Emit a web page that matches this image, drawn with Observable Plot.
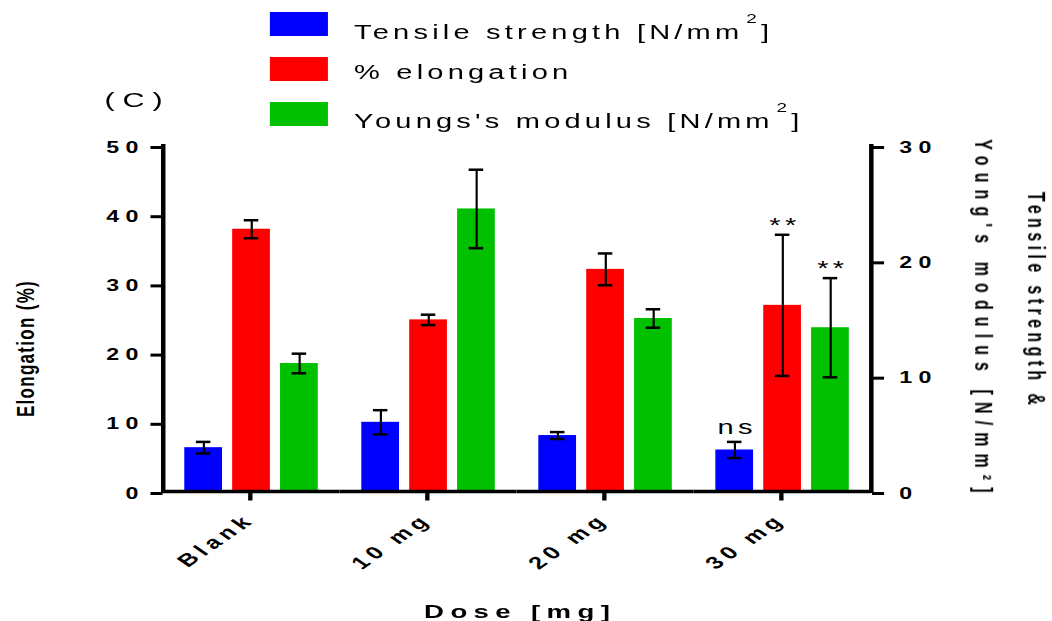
<!DOCTYPE html>
<html>
<head>
<meta charset="utf-8">
<script src="https://cdn.jsdelivr.net/npm/d3@7"></script>
<script src="https://cdn.jsdelivr.net/npm/@observablehq/plot@0.6"></script>
<style>
  html, body { margin: 0; padding: 0; background: #fff; overflow: hidden; }
  /* The figure is laid out 725px wide, then widened across the 1052px page. */
  #figure {
    position: relative; width: 725px; height: 621px;
    transform: scaleX(1.451); transform-origin: 0 0;
    font-family: "Liberation Sans", Arial, sans-serif; color: #000;
  }
  #legend { position: relative; height: 135px; }
  #legend .swatch { position: absolute; left: 186px; width: 39.5px; height: 23.4px; }
  #legend .entry {
    position: absolute; left: 244px; font-size: 20px; line-height: 20px;
    letter-spacing: 2.9px; white-space: nowrap;
  }
  #legend .sup { position: relative; top: -16.5px; font-size: 13px; margin-left: 2px; }
  #legend .panel {
    position: absolute; left: 72px; top: 89px; font-size: 21px; line-height: 21px;
    letter-spacing: 5.5px;
  }
  #chart svg { display: block; }
  g[aria-label="y-axis tick label"] { font-size: 16px; font-weight: bold; letter-spacing: 4.3px; }
  g[aria-label="fx-axis tick label"] { font-size: 17.5px; font-weight: bold; letter-spacing: 3.8px; }
  g[aria-description="significance"] { letter-spacing: 3px; }
  g[aria-description="y title"] { letter-spacing: 1.3px; }
  g[aria-description="y2 title 1"] { letter-spacing: 4.4px; }
  g[aria-description="y2 title 2"] { letter-spacing: 7.1px; }
  g[aria-description="x title"] { letter-spacing: 4.4px; }
</style>
</head>
<body>
<div id="figure">
  <div id="legend"></div>
  <div id="chart"></div>
</div>
<script>
// Doses and the three measured properties
const doses = ["Blank", "10 mg", "20 mg", "30 mg"];
const seriesNames = ["Tensile strength", "% elongation", "Young's modulus"];
const seriesLabels = ["Tensile strength [N/mm²]", "% elongation", "Youngs's modulus [N/mm²]"];
const seriesColors = ["#0000ff", "#ff0000", "#00c000"];
const seriesAxis = ["right", "left", "right"];

// Means and standard deviations per dose
const tensileMean = [3.8, 6.0, 4.85, 3.6];
const tensileSD = [0.5, 1.05, 0.3, 0.7];
const elongationMean = [37.9, 24.8, 32.1, 26.9];
const elongationSD = [1.3, 0.75, 2.3, 10.2];
const modulusMean = [11.1, 24.5, 15.0, 14.2];
const modulusSD = [0.85, 3.4, 0.8, 4.3];

// Significance labels versus blank
const tensileSig = ["", "", "", "ns"];
const elongationSig = ["", "", "", "**"];
const modulusSig = ["", "", "", "**"];

// Axis ticks
const leftTicks = [0, 10, 20, 30, 40, 50];
const rightTicks = [0, 10, 20, 30];

// Right-axis values are drawn on the left (elongation) scale
const rightToLeft = leftTicks[leftTicks.length - 1] / rightTicks[rightTicks.length - 1];

const table = [
  [tensileMean, tensileSD, tensileSig],
  [elongationMean, elongationSD, elongationSig],
  [modulusMean, modulusSD, modulusSig]
];

const rows = doses.flatMap((dose, i) =>
  seriesNames.map((series, s) => {
    const [mean, sd, sig] = table[s];
    const f = seriesAxis[s] === "right" ? rightToLeft : 1;
    return {
      dose, series,
      mean: mean[i] * f,
      lo: (mean[i] - sd[i]) * f,
      hi: (mean[i] + sd[i]) * f,
      sig: sig[i]
    };
  })
);

// Legend
const legend = document.getElementById("legend");
const swatchTops = [12.3, 57.3, 102.3];
const entryTops = [22.4, 62.4, 111.4];
seriesLabels.forEach((label, i) => {
  const sw = document.createElement("div");
  sw.className = "swatch";
  sw.style.top = swatchTops[i] + "px";
  sw.style.background = seriesColors[i];
  legend.appendChild(sw);
  const entry = document.createElement("div");
  entry.className = "entry";
  entry.style.top = entryTops[i] + "px";
  const parts = label.split("²");
  entry.appendChild(document.createTextNode(parts[0]));
  if (parts.length > 1) {
    const sup = document.createElement("span");
    sup.className = "sup";
    sup.textContent = "2";
    entry.appendChild(sup);
    entry.appendChild(document.createTextNode(parts[1]));
  }
  legend.appendChild(entry);
});
const panel = document.createElement("div");
panel.className = "panel";
panel.textContent = "(C)";
legend.appendChild(panel);

const first = () => doses[0];
const last = () => doses[doses.length - 1];
const middle = () => doses[doses.length / 2];

const chart = Plot.plot({
  width: 725,
  height: 486,
  marginTop: 10,
  marginBottom: 130,
  marginLeft: 112,
  marginRight: 125,
  style: {fontFamily: "'Liberation Sans', Arial, sans-serif", color: "#000", background: "#fff", overflow: "visible"},
  fx: {domain: doses, padding: 0},
  x: {domain: seriesNames, paddingInner: 0.2, paddingOuter: 0.43, axis: null},
  y: {domain: [0, 50]},
  color: {domain: seriesNames, range: seriesColors},
  marks: [
    Plot.barY(rows, {fx: "dose", x: "series", y: "mean", fill: "series"}),
    Plot.ruleX(rows, {fx: "dose", x: "series", y1: "lo", y2: "hi", stroke: "#000", strokeWidth: 1.5}),
    Plot.tickY(rows, {fx: "dose", x: "series", y: "lo", stroke: "#000", strokeWidth: 2.5, insetLeft: 8, insetRight: 8}),
    Plot.tickY(rows, {fx: "dose", x: "series", y: "hi", stroke: "#000", strokeWidth: 2.5, insetLeft: 8, insetRight: 8}),
    Plot.text(rows.filter((d) => d.sig === "ns"), {
      fx: "dose", x: "series", y: "hi", text: "sig", lineAnchor: "bottom", dy: -7.7, dx: 1.5,
      fontSize: 20, ariaDescription: "significance"
    }),
    Plot.text(rows.filter((d) => d.sig === "**"), {
      fx: "dose", x: "series", y: "hi", text: "sig", lineAnchor: "bottom", dy: -3, dx: 1.5,
      fontSize: 20, ariaDescription: "significance"
    }),
    Plot.ruleY([0], {stroke: "#000", strokeWidth: 3.5}),
    Plot.frame({anchor: "left", facetAnchor: "left", stroke: "#000", strokeWidth: 3.1}),
    Plot.frame({anchor: "right", facetAnchor: "right", stroke: "#000", strokeWidth: 3.1}),
    Plot.axisY({anchor: "left", ticks: leftTicks, tickSize: 8.3, tickPadding: 4.5, strokeWidth: 3, label: null, dy: 2}),
    Plot.axisY({
      anchor: "right",
      ticks: rightTicks.map((v) => v * rightToLeft),
      tickFormat: (v) => String(Math.round(v / rightToLeft)),
      tickSize: 8.3, tickPadding: 11, strokeWidth: 3, label: null, dy: 2
    }),
    Plot.axisFx({anchor: "bottom", tickSize: 9.5, tickPadding: 16, tickRotate: -45, strokeWidth: 3, label: null, dx: -1}),
    Plot.text(["Elongation (%)"], {
      fx: first, text: (d) => d, frameAnchor: "left", textAnchor: "middle", rotate: -90, dx: -94.5, dy: 30,
      fontSize: 17, fontWeight: "bold", ariaDescription: "y title"
    }),
    Plot.text(["Tensile strength &"], {
      fx: last, text: (d) => d, frameAnchor: "right", textAnchor: "middle", rotate: 90, dx: 113.3, dy: -17.9,
      fontSize: 16, fontWeight: "bold", ariaDescription: "y2 title 1"
    }),
    Plot.text(["Young's modulus [N/mm²]"], {
      fx: last, text: (d) => d, frameAnchor: "right", textAnchor: "middle", rotate: 90, dx: 76.8, dy: 1,
      fontSize: 16, fontWeight: "bold", ariaDescription: "y2 title 2"
    }),
    Plot.text(["Dose [mg]"], {
      fx: middle, text: (d) => d, frameAnchor: "bottom-left", textAnchor: "middle", lineAnchor: "bottom", dy: 126.3, dx: 2,
      fontSize: 19, fontWeight: "bold", ariaDescription: "x title"
    })
  ]
});

document.getElementById("chart").appendChild(chart);
</script>
</body>
</html>
